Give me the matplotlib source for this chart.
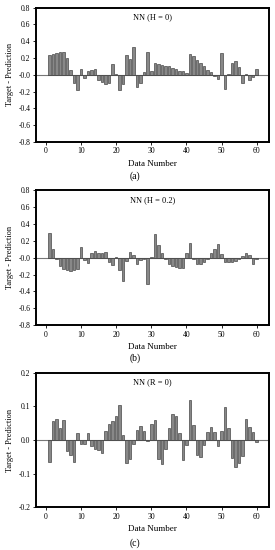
import matplotlib
matplotlib.use("Agg")
import matplotlib.pyplot as plt
import numpy as np

data_number = list(range(1, 61))

err_h0 = [0.24, 0.25, 0.26, 0.27, 0.27, 0.20, 0.06, -0.10, -0.18, 0.07,
          -0.04, 0.05, 0.06, 0.07, -0.06, -0.08, -0.11, -0.10, 0.13, 0.005,
          -0.18, -0.11, 0.24, 0.19, 0.33, -0.15, -0.10, 0.03, 0.27, 0.05,
          0.14, 0.13, 0.12, 0.11, 0.10, 0.08, 0.07, 0.05, 0.04, 0.02,
          0.25, 0.22, 0.18, 0.14, 0.10, 0.06, 0.03, -0.01, -0.05, 0.26,
          -0.17, 0.01, 0.14, 0.17, 0.09, -0.10, 0.005, -0.06, -0.03, 0.07]

err_h02 = [0.29, 0.10, -0.02, -0.10, -0.13, -0.15, -0.16, -0.15, -0.13, 0.13,
           -0.03, -0.06, 0.06, 0.08, 0.05, 0.06, 0.07, -0.05, -0.09, 0.01,
           -0.15, -0.28, -0.04, 0.07, 0.03, -0.07, -0.03, -0.01, -0.31, 0.01,
           0.28, 0.15, 0.05, -0.02, -0.07, -0.10, -0.11, -0.12, -0.12, 0.06,
           0.18, -0.02, -0.08, -0.08, -0.05, -0.01, 0.05, 0.10, 0.16, 0.04,
           -0.05, -0.05, -0.05, -0.04, -0.01, 0.02, 0.05, 0.03, -0.07, -0.01]

err_r0 = [-0.066, 0.058, 0.062, 0.035, 0.060, -0.032, -0.045, -0.065, 0.022, -0.012,
          -0.012, 0.022, -0.018, -0.028, -0.030, -0.038, 0.028, 0.048, 0.056, 0.072,
          0.105, 0.014, -0.068, -0.058, -0.012, 0.030, 0.043, 0.028, -0.002, 0.047,
          0.060, -0.056, -0.072, -0.028, 0.037, 0.078, 0.072, 0.020, -0.060, -0.015,
          0.120, 0.046, -0.045, -0.052, -0.015, 0.025, 0.040, 0.024, -0.017, 0.028,
          0.097, 0.036, -0.055, -0.080, -0.068, -0.048, 0.062, 0.040, 0.024, -0.006]

titles = ["NN (H = 0)", "NN (H = 0.2)", "NN (R = 0)"]
panel_labels = ["(a)", "(b)", "(c)"]
series = [err_h0, err_h02, err_r0]
ylims = [(-0.8, 0.8), (-0.8, 0.8), (-0.2, 0.2)]
yticks = [np.round(np.arange(-0.8, 0.81, 0.2), 1),
          np.round(np.arange(-0.8, 0.81, 0.2), 1),
          np.round(np.arange(-0.2, 0.21, 0.1), 1)]
xticks = [0, 10, 20, 30, 40, 50, 60]

plt.rcParams['font.family'] = ['Liberation Serif', 'DejaVu Serif']

fig = plt.figure(figsize=(2.75, 5.5), dpi=100)
axes_rects = [[0.131, 0.742, 0.847, 0.244],
              [0.131, 0.409, 0.847, 0.245],
              [0.131, 0.078, 0.847, 0.244]]
label_y = [0.680, 0.349, 0.013]

for i in range(3):
    ax = fig.add_axes(axes_rects[i])
    ax.bar(data_number, series[i], width=0.72, color='#888888',
           edgecolor='#2a2a2a', linewidth=0.4, zorder=2)
    ax.axhline(0, color='#777777', linewidth=0.8, zorder=1)
    ax.set_xlim(-2.8, 63.5)
    ax.set_ylim(*ylims[i])
    ax.set_xticks(xticks)
    ax.set_yticks(yticks[i])
    ax.set_yticklabels([f"{v:.1f}" for v in yticks[i]])
    ax.tick_params(labelsize=5.5, length=2, width=0.6, pad=2)
    for sp in ax.spines.values():
        sp.set_linewidth(1.4)
    ax.set_xlabel("Data Number", fontsize=6.5, labelpad=3)
    ax.set_ylabel("Target - Prediction", fontsize=6, labelpad=3)
    ax.text(0.5, 0.93, titles[i], transform=ax.transAxes, ha='center',
            va='center', fontsize=6)
    fig.text(0.49, label_y[i], panel_labels[i], ha='center', va='center',
             fontsize=7)

fig.savefig("out.png", dpi=100)
